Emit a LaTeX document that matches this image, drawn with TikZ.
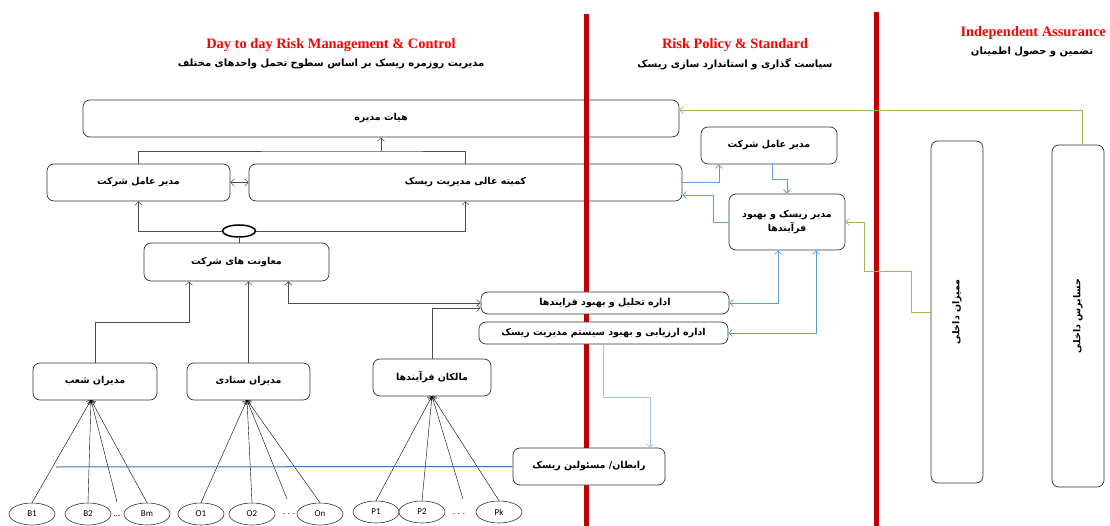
\documentclass[tikz,border=0pt]{standalone}
\usepackage{fontspec}
\setmainfont{Liberation Serif}
\newfontfamily\fa[Script=Arabic]{DejaVu Sans}
\newfontfamily\lat{Carlito}
\TeXXeTstate=1
\usetikzlibrary{shapes.geometric,arrows.meta}

\definecolor{divred}{RGB}{192,0,0}
\definecolor{linkblue}{RGB}{91,155,213}
\definecolor{paleblue}{RGB}{157,195,230}
\definecolor{deepblue}{RGB}{46,117,182}
\definecolor{audgreen}{RGB}{155,187,89}

\newcommand{\fatxt}[1]{\beginR #1\endR}

\tikzset{
  unitbox/.style={draw=black!80, line width=0.7pt, rounded corners=7pt, inner sep=0pt,
    font=\fa\bfseries\fontsize{9.5}{14}\selectfont, align=center},
  leaf/.style={draw=black!80, ellipse, line width=0.6pt, fill=white, minimum width=46pt,
    minimum height=22pt, inner sep=0pt, font=\lat\fontsize{9}{10}\selectfont},
  headline/.style={text=red, font=\bfseries\fontsize{14.4}{16}\selectfont},
  subline/.style={font=\fa\bfseries\fontsize{10}{12}\selectfont},
  divider/.style={divred, line width=5pt},
  link/.style={black!70, line width=0.6pt},
  bluelink/.style={linkblue, line width=0.7pt},
  greenlink/.style={audgreen, line width=0.7pt},
}

\begin{document}
\begin{tikzpicture}[x=1pt,y=-1pt,>={Straight Barb[length=3.5pt,width=7pt]}]
\useasboundingbox (0,0) rectangle (1110,526);

% column titles
\node[headline] (t1) at (331,45) {Day to day Risk Management \& Control};
\node[subline] (s1) at (331,64) {\fatxt{مدیریت روزمره ریسک بر اساس سطوح تحمل واحدهای مختلف}};
\node[headline] (t2) at (735,45) {Risk Policy \& Standard};
\node[subline] (s2) at (735,64) {\fatxt{سیاست گذاری و استاندارد سازی ریسک}};
\node[headline, anchor=east, inner sep=0pt] (t3) at (1106,33) {Independent Assurance};
\node[subline] (s3) at (1032,52) {\fatxt{تضمین  و حصول اطمینان}};

% top level
\node[unitbox, minimum width=596pt, minimum height=37pt] (board) at (381,118.5) {\fatxt{هیات مدیره}};
\node[unitbox, minimum width=183pt, minimum height=37pt] (ceo) at (138.5,182.5) {\fatxt{مدیر عامل شرکت}};
\node[unitbox, minimum width=433pt, minimum height=37pt] (committee) at (465.5,182.5) {\fatxt{کمیته عالی مدیریت ریسک}};

% dividers
\draw[divider] (586,14) -- (586,526);
\draw[divider] (876,12) -- (876,526);

\node[unitbox, fill=white, minimum width=185pt, minimum height=38pt] (deputies) at (236.5,262) {\fatxt{معاونت های شرکت}};
\node[unitbox, fill=white, minimum width=124pt, minimum height=37pt] (branchmgr) at (95,381.5) {\fatxt{مدیران شعب}};
\node[unitbox, fill=white, minimum width=123pt, minimum height=37pt] (staffmgr) at (248.5,381.5) {\fatxt{مدیران ستادی}};
\node[unitbox, fill=white, minimum width=118pt, minimum height=37pt] (owners) at (432,377.5) {\fatxt{مالکان فرآیندها}};
\node[unitbox, fill=white, minimum width=248pt, minimum height=22pt] (analysis) at (605,303) {\fatxt{اداره تحلیل و بهبود فرایندها}};
\node[unitbox, fill=white, minimum width=249pt, minimum height=22pt] (evaluation) at (603.5,333) {\fatxt{اداره ارزیابی و بهبود سیستم مدیریت ریسک}};
\node[unitbox, fill=white, minimum width=152pt, minimum height=37pt] (liaison) at (589,466.5) {\fatxt{رابطان/ مسئولین ریسک}};
\node[unitbox, fill=white, minimum width=136pt, minimum height=37pt] (ceo2) at (769,145.5) {\fatxt{مدیر عامل شرکت}};
\node[unitbox, fill=white, minimum width=116pt, minimum height=56pt] (riskmgr) at (787,222) {\fatxt{مدیر ریسک و بهبود}\\\fatxt{فرآیندها}};
\node[unitbox, fill=white, minimum width=52pt, minimum height=342pt] (auditors) at (957,312) {};
\node[rotate=90, font=\fa\bfseries\fontsize{9.5}{14}\selectfont] at (auditors) {\fatxt{ممیزان داخلی}};
\node[unitbox, fill=white, minimum width=52pt, minimum height=342pt] (audit) at (1078,316) {};
\node[rotate=90, font=\fa\bfseries\fontsize{9.5}{14}\selectfont] at (audit) {\fatxt{حسابرس داخلی}};

% hub between ceo and committee
\node[draw, ellipse, line width=1.5pt, minimum width=33pt, minimum height=12pt, inner sep=0pt] (hub) at (239,231) {};
\coordinate (join) at (381,151);
\draw[link] (ceo.north) |- (join) -| (committee.north);
\draw[link,->] (join) -- (board.south);
\draw[link,<->] (ceo) -- (committee);
\draw[link,->] (hub.west) -| (ceo.south);
\draw[link,->] (hub.east) -| (committee.south);
\draw[link] (hub.south) -- (hub.south |- deputies.north);

% managers up to deputies
\coordinate (elbow) at (189,322);
\draw[link,->] (branchmgr.north) |- (elbow) -- (elbow |- deputies.south);
\draw[link,->] (staffmgr.north) -- (staffmgr.north |- deputies.south);
\draw[link,<->] ([xshift=-41pt]deputies.south east) |- (analysis.west);
\draw[link,->] (owners.north) |- ([yshift=-5pt]analysis.west);

% leaves
\node[leaf] (b1) at (32,514) {B1};
\node[leaf] (b2) at (88,514) {B2};
\node[font=\lat\fontsize{9}{10}\selectfont] (bdots) at (117,516) {...};
\node[leaf] (bm) at (147,514) {Bm};
\node[leaf] (o1) at (201,514) {O1};
\node[leaf] (o2) at (252,514) {O2};
\node[font=\lat\fontsize{9}{10}\selectfont] (odots) at (289,514) {. . .};
\node[leaf] (on) at (320,514) {On};
\node[leaf] (p1) at (376,512) {P1};
\node[leaf] (p2) at (422,512) {P2};
\node[font=\lat\fontsize{9}{10}\selectfont] (pdots) at (459,514) {. . .};
\node[leaf] (pk) at (499,512) {Pk};

\coordinate (bfocus) at (91,400);
\coordinate (ofocus) at (247,400);
\coordinate (pfocus) at (432,396);
\coordinate (bfree) at (117,502);
\coordinate (ofree) at (287,499);
\coordinate (pfree) at (463,499);
\draw[->] (b1.north) -- (bfocus);
\draw[->] (b2.north) -- (bfocus);
\draw[->] (bfree) -- (bfocus);
\draw[->] (bm.north) -- (bfocus);
\draw[->] (o1.north) -- (ofocus);
\draw[->] (o2.north) -- (ofocus);
\draw[->] (ofree) -- (ofocus);
\draw[->] (on.north) -- (ofocus);
\draw[->] (p1.north) -- (pfocus);
\draw[->] (p2.north) -- (pfocus);
\draw[->] (pfree) -- (pfocus);
\draw[->] (pk.north) -- (pfocus);

% liaison line
\coordinate (lstart) at (56,467);
\draw[deepblue, line width=1pt] (lstart) -- (liaison.west);

% policy links
\draw[bluelink,->] (committee.east) -| ([xshift=-50pt]ceo2.south);
\draw[bluelink,->] ([xshift=3pt]ceo2.south) -- ++(0,15) -| (riskmgr.north);
\draw[bluelink,->] (riskmgr.west) -- ++(-15,0) |- ([yshift=-12.5pt]committee.east);
\draw[bluelink,<->] ([xshift=-9pt]riskmgr.south) |- (analysis.east);
\draw[bluelink,<->] ([xshift=29pt]riskmgr.south) |- (evaluation.east);
\draw[paleblue, line width=0.8pt, ->] (evaluation.south) -- ++(0,53) -| ([xshift=61pt]liaison.north);

% assurance links
\draw[greenlink,->] (auditors.west) -- ++(-19,0) -- ++(0,-41) -- ++(-47,0) |- (riskmgr.east);
\draw[greenlink,->] ([xshift=4pt]audit.north) |- ([yshift=8.5pt]board.east);
\end{tikzpicture}
\end{document}
